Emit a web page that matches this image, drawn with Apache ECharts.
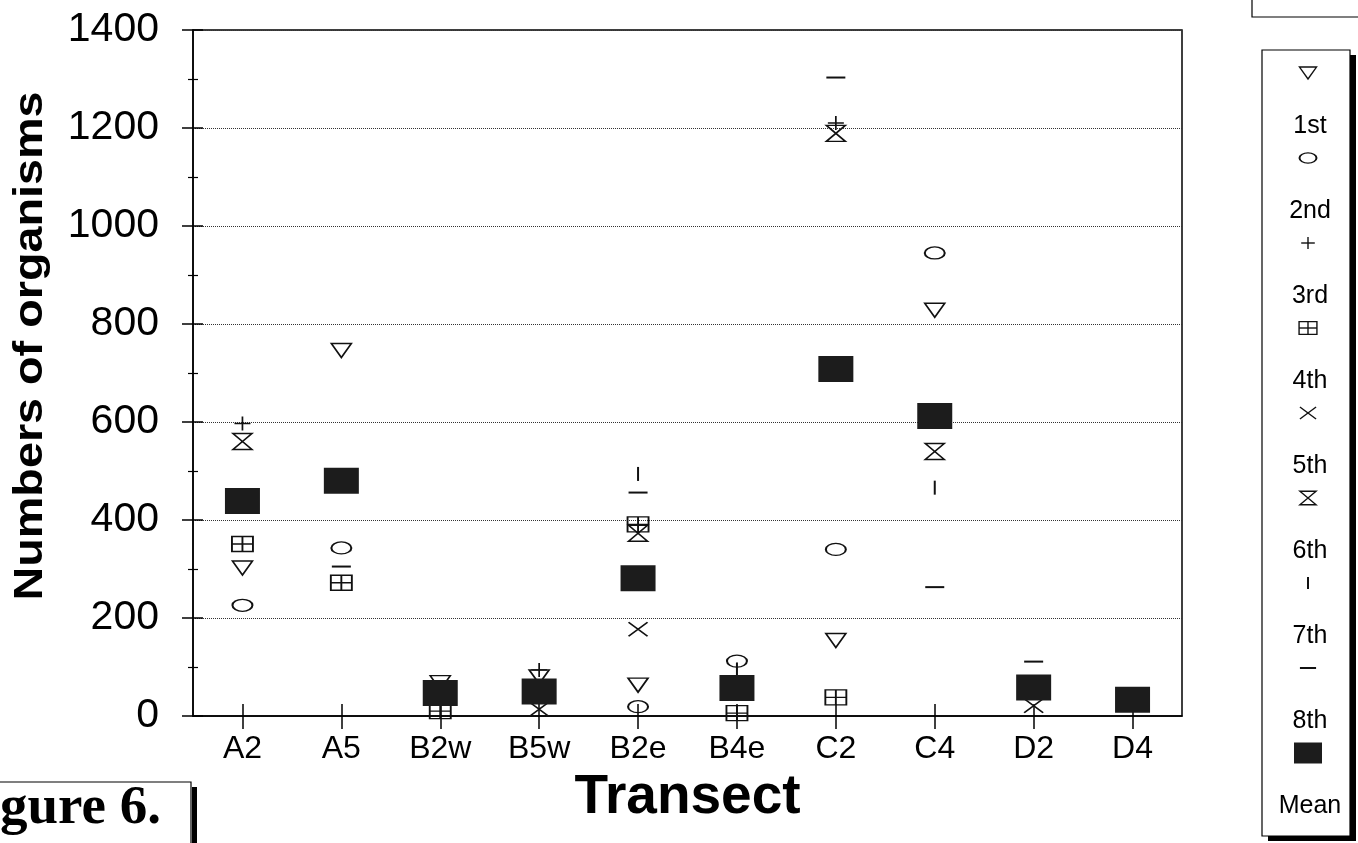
<!DOCTYPE html>
<html>
<head>
<meta charset="utf-8">
<script src="https://cdn.jsdelivr.net/npm/echarts@6/dist/echarts.min.js"></script>
<style>
  html, body { margin: 0; padding: 0; background: #fff; }
  #chart { width: 1358px; height: 843px; }
</style>
</head>
<body>
<div id="chart"></div>
<script>
// Transects sampled along the shore
const transects = ['A2', 'A5', 'B2w', 'B5w', 'B2e', 'B4e', 'C2', 'C4', 'D2', 'D4'];

// Organism counts per sampling occasion (null = not recorded / hidden)
const first   = [302, 746, 68, 80, 63, null, 154, 828, null, null];
const second  = [226, 343, null, null, 19, 112, 340, 945, null, null];
const third   = [597, null, null, 94, null, null, 1210, null, null, null];
const fourth  = [351, 272, 10, null, 391, 6, 38, null, null, null];
const fifth   = [null, null, null, 14, 177, null, null, null, 21, null];
const sixth   = [560, null, null, null, 373, null, 1189, 540, null, null];
const seventh = [null, null, null, null, 494, 95, null, 466, null, null];
const eighth  = [null, 305, null, null, 456, null, 1303, 263, 111, null];
const mean    = [439, 480, 47, 50, 281, 57, 708, 612, 58, 33];

// Y axis tick labels
const yTickLabels = ['0', '200', '400', '600', '800', '1000', '1200', '1400'];

const FONT = "'Liberation Sans', Arial, Helvetica, sans-serif";
const INK = '#111';

// Marker shapes
const P = {
  tri:   'M0,0L20,0L10,14Z',
  oval:  'M0,6A10,6 0 1,1 20,6A10,6 0 1,1 0,6Z',
  plus:  'M0,7L16,7M8,0L8,14',
  box:   'M0,0L20,0L20,14L0,14ZM0,7L20,7M10,0L10,14',
  cross: 'M0,0L18,13M0,13L18,0',
  glass: 'M0,0L18,0L0,16L18,16Z'
};

const seriesMeta = [
  { name: '1st',  data: first,   kind: 'tri',   size: [20, 14] },
  { name: '2nd',  data: second,  kind: 'oval',  size: [20, 12] },
  { name: '3rd',  data: third,   kind: 'plus',  size: [16, 14] },
  { name: '4th',  data: fourth,  kind: 'box',   size: [21, 15] },
  { name: '5th',  data: fifth,   kind: 'cross', size: [19, 14] },
  { name: '6th',  data: sixth,   kind: 'glass', size: [19, 16] },
  { name: '7th',  data: seventh, kind: 'bar',   size: [2, 14] },
  { name: '8th',  data: eighth,  kind: 'bar',   size: [19, 2] },
  { name: 'Mean', data: mean,    kind: 'mean',  size: [35, 26] }
];

const isSolid = k => k === 'bar' || k === 'mean';

const series = seriesMeta.map(m => ({
  name: m.name,
  type: 'scatter',
  data: m.data,
  symbol: isSolid(m.kind) ? 'rect' : 'path://' + P[m.kind],
  symbolSize: m.size,
  symbolKeepAspect: false,
  itemStyle: isSolid(m.kind)
    ? { color: m.kind === 'mean' ? '#1c1c1c' : INK, borderWidth: 0, opacity: 1 }
    : { color: 'rgba(255,255,255,0)', borderColor: INK, borderWidth: 1.6, opacity: 1 },
  emphasis: { disabled: true },
  silent: true
}));

// Legend icon built from plain shapes, centred on (cx, cy)
function legendIcon(kind, cx, cy, w, h) {
  const st = { fill: 'none', stroke: INK, lineWidth: 1.4 };
  const l = cx - w / 2, r = cx + w / 2, t = cy - h / 2, b = cy + h / 2;
  switch (kind) {
    case 'tri':   return [{ type: 'polygon', shape: { points: [[l, t], [r, t], [cx, b]] }, style: st }];
    case 'oval':  return [{ type: 'circle', x: cx, y: cy, scaleX: w / h, shape: { cx: 0, cy: 0, r: h / 2 }, style: { fill: 'none', stroke: INK, lineWidth: 1.2 } }];
    case 'plus':  return [{ type: 'line', shape: { x1: l, y1: cy, x2: r, y2: cy }, style: st },
                          { type: 'line', shape: { x1: cx, y1: t, x2: cx, y2: b }, style: st }];
    case 'box':   return [{ type: 'rect', shape: { x: l, y: t, width: w, height: h }, style: st },
                          { type: 'line', shape: { x1: l, y1: cy, x2: r, y2: cy }, style: st },
                          { type: 'line', shape: { x1: cx, y1: t, x2: cx, y2: b }, style: st }];
    case 'cross': return [{ type: 'line', shape: { x1: l, y1: t, x2: r, y2: b }, style: st },
                          { type: 'line', shape: { x1: l, y1: b, x2: r, y2: t }, style: st }];
    case 'glass': return [{ type: 'polygon', shape: { points: [[l, t], [r, t], [l, b], [r, b]] }, style: st }];
    case 'bar':   return [{ type: 'rect', shape: { x: l, y: t, width: w, height: h }, style: { fill: INK } }];
    default:      return [{ type: 'rect', shape: { x: l, y: t, width: w, height: h }, style: { fill: '#1c1c1c' } }];
  }
}

// Legend: symbol stacked above its label, inside a shadowed box
const LEG = { left: 1262, top: 50, right: 1350, bottom: 836, symX: 1308, textX: 1310, y0: 73, step: 85, textDy: 53 };
const legendChildren = [
  { type: 'rect', shape: { x: LEG.left + 6, y: LEG.top + 5, width: LEG.right - LEG.left, height: LEG.bottom - LEG.top },
    style: { fill: '#000' } },
  { type: 'rect', shape: { x: LEG.left, y: LEG.top, width: LEG.right - LEG.left, height: LEG.bottom - LEG.top },
    style: { fill: '#fff', stroke: '#000', lineWidth: 1.2 } }
];
seriesMeta.forEach((m, i) => {
  const cy = LEG.y0 + i * LEG.step;
  const w = m.kind === 'mean' ? 28 : Math.max(2, m.size[0] * 0.85);
  const h = m.kind === 'mean' ? 21 : Math.max(2, m.size[1] * 0.85);
  legendIcon(m.kind, LEG.symX, cy, w, h).forEach(el => legendChildren.push(el));
  legendChildren.push({ type: 'text', x: LEG.textX, y: cy + LEG.textDy,
    style: { text: m.name, font: '25px ' + FONT, fill: '#000', textAlign: 'center', textVerticalAlign: 'middle' } });
});

const chart = echarts.init(document.getElementById('chart'), null, { renderer: 'canvas' });

chart.setOption({
  backgroundColor: '#fff',
  animation: false,
  grid: { left: 193, right: 176, top: 30, bottom: 127, show: true, borderColor: '#000', borderWidth: 1.5, containLabel: false },
  xAxis: [
    {
      type: 'category', data: transects, boundaryGap: true,
      axisLine: { show: true, lineStyle: { color: '#000', width: 1.5 } },
      axisTick: { show: true, alignWithLabel: true, length: 13, lineStyle: { color: '#000', width: 1.5 } },
      axisLabel: { fontSize: 32, color: '#000', fontFamily: FONT, margin: 17 },
      splitLine: { show: false },
      name: 'Transect', nameLocation: 'middle', nameGap: 53,
      nameTextStyle: { fontSize: 55, fontWeight: 'bold', color: '#000', fontFamily: FONT }
    },
    {
      type: 'category', data: transects, boundaryGap: true, position: 'bottom', offset: 0,
      axisLine: { show: false },
      axisTick: { show: true, inside: true, alignWithLabel: true, length: 12, lineStyle: { color: '#000', width: 1.5 } },
      axisLabel: { show: false }, splitLine: { show: false }
    }
  ],
  yAxis: [
    {
      type: 'value', min: 0, max: 1400, interval: 200,
      axisLine: { show: true, lineStyle: { color: '#000', width: 1.5 } },
      axisTick: { show: true, length: 11, lineStyle: { color: '#000', width: 1.5 } },
      minorTick: { show: true, splitNumber: 2, length: 5, lineStyle: { color: '#000', width: 1.2 } },
      axisLabel: { fontSize: 41, color: '#000', fontFamily: FONT, margin: 34,
        formatter: v => yTickLabels[Math.round(v / 200)] },
      splitLine: { show: true, lineStyle: { type: 'dotted', color: '#333', width: 1 } }
    },
    {
      type: 'value', min: 0, max: 1400, interval: 200, position: 'left', offset: 0,
      axisLine: { show: false },
      axisTick: { show: true, inside: true, length: 10, lineStyle: { color: '#000', width: 1.5 } },
      minorTick: { show: true, splitNumber: 2, length: 5, lineStyle: { color: '#000', width: 1.2 } },
      axisLabel: { show: false }, splitLine: { show: false }
    }
  ],
  series: series,
  graphic: [
    // vertical axis title
    { type: 'text', x: 31, y: 346, rotation: Math.PI / 2, scaleX: 1.14,
      style: { text: 'Numbers of organisms', font: 'bold 41px ' + FONT, fill: '#000', textAlign: 'center', textVerticalAlign: 'middle' } },
    // legend
    { type: 'group', children: legendChildren },
    // frame peeking in at the top right
    { type: 'rect', shape: { x: 1252, y: -10, width: 130, height: 27 }, style: { fill: '#fff', stroke: '#000', lineWidth: 1.2 } },
    // figure caption box
    { type: 'rect', shape: { x: 192, y: 787, width: 5, height: 70 }, style: { fill: '#000' } },
    { type: 'rect', shape: { x: -5, y: 782, width: 196, height: 80 }, style: { fill: '#fff', stroke: '#000', lineWidth: 1.2 } },
    { type: 'text', x: 0, y: 836,
      style: { text: 'gure 6.', font: 'bold 55px "Liberation Serif", "Times New Roman", serif', fill: '#000', textAlign: 'left', textVerticalAlign: 'bottom' } }
  ]
});
</script>
</body>
</html>
